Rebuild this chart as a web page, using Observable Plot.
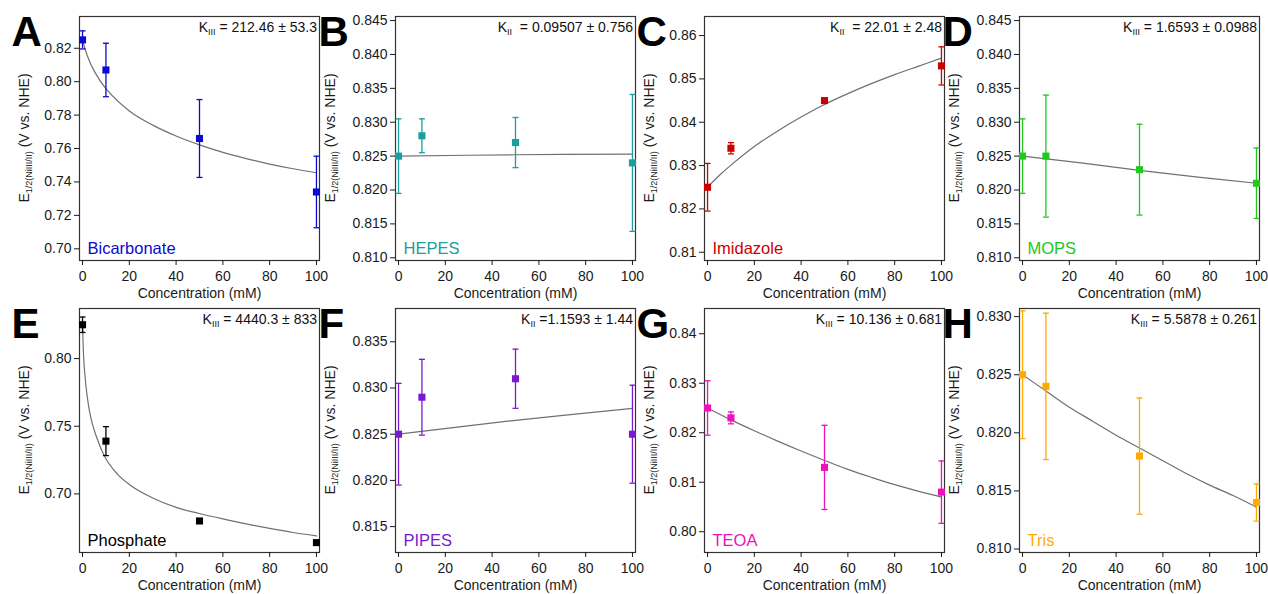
<!DOCTYPE html>
<html><head><meta charset="utf-8">
<script src="https://cdn.jsdelivr.net/npm/d3@7"></script>
<script src="https://cdn.jsdelivr.net/npm/@observablehq/plot@0.6"></script>
<style>
body{margin:0;background:#fff;}
#chart{position:relative;width:1268px;height:594px;overflow:hidden;background:#fff;}
#chart svg{position:absolute;overflow:visible;}
</style></head><body><div id="chart"></div>
<script>
// ---- data ----
const panelLetters = ["A","B","C","D","E","F","G","H"];
const buffers = ["Bicarbonate","HEPES","Imidazole","MOPS","Phosphate","PIPES","TEOA","Tris"];
const seriesColors = ["#0a0ad0","#1a9e9e","#cc0000","#20c820","#000000","#7a1ad0","#ee10bb","#ffaa00"];
const concentrations = [0, 10, 50, 100];
const meanE = [
  [0.825, 0.807, 0.766, 0.734],
  [0.825, 0.828, 0.827, 0.824],
  [0.825, 0.834, 0.845, 0.853],
  [0.825, 0.825, 0.823, 0.821],
  [0.825, 0.739, 0.680, 0.664],
  [0.825, 0.829, 0.831, 0.825],
  [0.825, 0.823, 0.813, 0.808],
  [0.825, 0.824, 0.818, 0.814]
];
const errE = [
  [0.0054, 0.016, 0.0233, 0.0214],
  [0.0055, 0.0025, 0.0037, 0.0101],
  [0.0055, 0.0013, 0.0004, 0.0044],
  [0.0055, 0.009, 0.0067, 0.0052],
  [0.0057, 0.0107, 0, 0],
  [0.0055, 0.0041, 0.0032, 0.0053],
  [0.0055, 0.0012, 0.0085, 0.0063],
  [0.0055, 0.0063, 0.0050, 0.0016]
];
const fitX = [
  [0, 2, 5, 10, 20, 30, 40, 50, 60, 70, 80, 90, 100],
  [0, 50, 100],
  [0, 5, 10, 20, 30, 40, 50, 60, 70, 80, 90, 100],
  [0, 25, 50, 75, 100],
  [0, 0.25, 0.5, 1, 2, 3, 4, 6, 8, 10, 15, 20, 30, 40, 50, 60, 70, 80, 90, 100],
  [0, 50, 100],
  [0, 10, 20, 30, 40, 50, 60, 70, 80, 90, 100],
  [0, 10, 20, 30, 40, 50, 60, 70, 80, 90, 100]
];
const fitE = [
  [0.825, 0.8157, 0.8063, 0.7958, 0.7825, 0.7740, 0.7675, 0.7622, 0.7577, 0.7540, 0.7507, 0.7479, 0.7455],
  [0.8250, 0.8252, 0.8253],
  [0.825, 0.8277, 0.8301, 0.8344, 0.8380, 0.8412, 0.8441, 0.8466, 0.8489, 0.8510, 0.8529, 0.8548],
  [0.825, 0.8240, 0.8229, 0.8219, 0.8210],
  [0.825, 0.810, 0.800, 0.788, 0.772, 0.761, 0.753, 0.742, 0.733, 0.726, 0.7145, 0.707, 0.697, 0.690, 0.6855, 0.6815, 0.6778, 0.6745, 0.6715, 0.669],
  [0.825, 0.8265, 0.8278],
  [0.825, 0.8226, 0.8204, 0.8183, 0.8163, 0.8144, 0.8126, 0.8110, 0.8095, 0.8082, 0.8070],
  [0.825, 0.8236, 0.8222, 0.8210, 0.8198, 0.8187, 0.8176, 0.8165, 0.8155, 0.8146, 0.8136]
];
const kSubscripts = ["III","II","II","III","III","II","III","III"];
const kValues = [" = 212.46 ± 53.3", "  = 0.09507 ± 0.756", "  = 22.01 ± 2.48", " = 1.6593 ± 0.0988",
                 " = 4440.3 ± 833", " =1.1593 ± 1.44", " = 10.136 ± 0.681", " = 5.5878 ± 0.261"];
const xTicks = [0, 20, 40, 60, 80, 100];
const yTicks = [
  [0.70, 0.72, 0.74, 0.76, 0.78, 0.80, 0.82],
  [0.810, 0.815, 0.820, 0.825, 0.830, 0.835, 0.840, 0.845],
  [0.81, 0.82, 0.83, 0.84, 0.85, 0.86],
  [0.810, 0.815, 0.820, 0.825, 0.830, 0.835, 0.840, 0.845],
  [0.70, 0.75, 0.80],
  [0.815, 0.820, 0.825, 0.830, 0.835],
  [0.80, 0.81, 0.82, 0.83, 0.84],
  [0.810, 0.815, 0.820, 0.825, 0.830]
];
const yDecimals = [2, 3, 2, 3, 2, 3, 2, 3];
const yDomains = [
  [0.693, 0.839], [0.8096, 0.8456], [0.8081, 0.8644], [0.8096, 0.8456],
  [0.6567, 0.837], [0.8122, 0.8386], [0.7958, 0.8451], [0.8097, 0.8307]
];
const xLabel = "Concentration (mM)";

// ---- layout ----
const colLefts = [0, 316, 625, 940];
const rowTops = [0, 292];
const ML = 79, MT = 16, FW = 240, FH = 244, MR = 6, MB = 44;
const FONT = "'Liberation Sans', Arial, Helvetica, sans-serif";
const capSymbol = {draw(context) { context.moveTo(-3, 0); context.lineTo(3, 0); }};

const chart = document.getElementById("chart");

panelLetters.forEach((letter, i) => {
  const color = seriesColors[i];
  const data = concentrations.map((c, j) => ({c, e: meanE[i][j], err: errE[i][j]}));
  const bars = data.filter(d => d.err > 0);
  const fit = fitX[i].map((x, j) => ({c: x, e: fitE[i][j]}));
  const wide = yDecimals[i] === 3;
  const svg = Plot.plot({
    width: ML + FW + MR, height: MT + FH + MB,
    marginLeft: ML, marginTop: MT, marginRight: MR, marginBottom: MB,
    style: {fontFamily: FONT, fontSize: "14px", background: "transparent", color: "#1a1a1a", overflow: "visible"},
    x: {domain: [-1.3, 101.3]},
    y: {domain: yDomains[i]},
    marks: [
      Plot.frame({stroke: "#333", strokeWidth: 1.2}),
      Plot.axisX({ticks: xTicks, tickSize: 5, tickPadding: 6, label: xLabel, labelAnchor: "center", labelArrow: "none", labelOffset: 37}),
      Plot.axisY({ticks: yTicks[i], tickFormat: d3.format(`.${yDecimals[i]}f`), tickSize: 5, tickPadding: 3, label: null}),
      Plot.line(fit, {x: "c", y: "e", stroke: "#707070", strokeWidth: 1.2, curve: i === 4 ? "monotone-x" : "catmull-rom"}),
      Plot.ruleX(bars, {x: "c", y1: d => d.e - d.err, y2: d => d.e + d.err, stroke: color, strokeWidth: 1.3}),
      Plot.dot(bars, {x: "c", y: d => d.e - d.err, symbol: capSymbol, fill: "none", stroke: color, strokeWidth: 1.3}),
      Plot.dot(bars, {x: "c", y: d => d.e + d.err, symbol: capSymbol, fill: "none", stroke: color, strokeWidth: 1.3}),
      Plot.dot(data, {x: "c", y: "e", symbol: "square", r: 4, fill: color, stroke: "none"}),
      Plot.text([buffers[i]], {frameAnchor: "bottom-left", dx: 8, dy: -7, lineAnchor: "bottom", textAnchor: "start", fill: color, fontSize: 16.5}),
      Plot.text([letter], {frameAnchor: "top-left", dx: wide ? -77 : -68, dy: 29, lineAnchor: "bottom", textAnchor: "start", fill: "#000", fontSize: 42, fontWeight: "bold"})
    ]
  });
  svg.style.left = colLefts[i % 4] + "px";
  svg.style.top = rowTops[Math.floor(i / 4)] + "px";
  const s = d3.select(svg);
  // y-axis label with subscript
  const yl = s.append("text")
    .attr("transform", `translate(${ML - (wide ? 60 : 50)},${MT + FH / 2}) rotate(-90)`)
    .attr("text-anchor", "middle").attr("font-size", 14).attr("fill", "#1a1a1a");
  yl.append("tspan").text("E");
  yl.append("tspan").attr("font-size", 9).attr("dy", 3).text("1/2(NiIII/II)");
  yl.append("tspan").attr("dy", -3).text(" (V vs. NHE)");
  // binding constant label
  const kl = s.append("text")
    .attr("x", ML + FW - 2).attr("y", MT + 16)
    .attr("text-anchor", "end").attr("font-size", 14).attr("fill", "#111")
    .style("white-space", "pre");
  kl.append("tspan").text("K");
  kl.append("tspan").attr("font-size", 9).attr("dy", 3).text(kSubscripts[i]);
  kl.append("tspan").attr("dy", -3).text(kValues[i]);
  chart.appendChild(svg);
});
</script>
</body></html>
